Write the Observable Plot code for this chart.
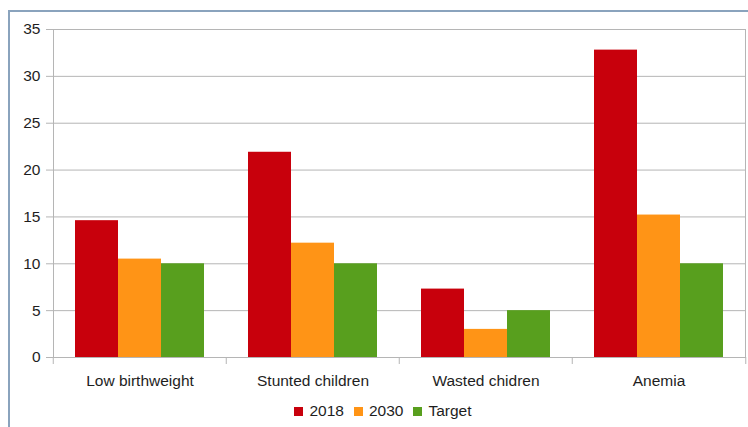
<!DOCTYPE html>
<html>
<head>
<meta charset="utf-8">
<script src="https://cdn.jsdelivr.net/npm/d3@7"></script>
<script src="https://cdn.jsdelivr.net/npm/@observablehq/plot@0.6"></script>
<style>
  body { margin: 0; background: #fff; font-family: "Liberation Sans", Arial, sans-serif; }
  #wrap { position: relative; width: 748px; height: 427px; overflow: hidden; background: #fff; }
  #border { position: absolute; left: 8px; top: 10px; right: -4px; bottom: -4px;
            border-left: 2px solid #8aa3bd; border-top: 2px solid #8aa3bd; pointer-events: none; }
</style>
</head>
<body>
<div id="wrap"><div id="chart"></div><div id="border"></div></div>
<script>
// Nutrition indicators (%): current level, projection and target
const categories = ["Low birthweight", "Stunted children", "Wasted chidren", "Anemia"];
const series = ["2018", "2030", "Target"];
const values2018 = [14.6, 21.9, 7.3, 32.8];
const values2030 = [10.5, 12.2, 3.0, 15.2];
const valuesTarget = [10, 10, 5, 10];
const seriesColors = ["#c8000c", "#ff9416", "#589f1e"];
const yTicks = [0, 5, 10, 15, 20, 25, 30, 35];

const rows = [];
categories.forEach((c, i) => {
  rows.push({category: c, series: "2018", value: values2018[i]});
  rows.push({category: c, series: "2030", value: values2030[i]});
  rows.push({category: c, series: "Target", value: valuesTarget[i]});
});

const W = 748, H = 395, ML = 52, MR = 2;
const halfStep = (W - ML - MR) / categories.length / 2;
const lineColor = "#b5b5b5";
const textColor = "#1e1e1e";
const fontSize = 15.5;

const plot = Plot.plot({
  width: W,
  height: H,
  marginLeft: ML,
  marginRight: MR,
  marginTop: 29,
  marginBottom: 38,
  style: {fontFamily: "'Liberation Sans', Arial, sans-serif", fontSize: fontSize + "px", background: "transparent", color: textColor},
  fx: {domain: categories, padding: 0, label: null},
  x: {domain: series, paddingInner: 0, paddingOuter: 0.485, axis: null},
  y: {domain: [0, 35], axis: null},
  color: {domain: series, range: seriesColors},
  marks: [
    Plot.gridY(yTicks, {stroke: lineColor, strokeOpacity: 1}),
    Plot.frame({anchor: "left", facetAnchor: "left", stroke: lineColor}),
    Plot.frame({anchor: "right", facetAnchor: "right", stroke: lineColor}),
    Plot.barY(rows, {fx: "category", x: "series", y: "value", fill: "series"}),
    Plot.axisY(yTicks, {tickSize: 7, tickPadding: 6, fontSize, stroke: lineColor, fill: textColor, strokeOpacity: 1, label: null}),
    Plot.axisFx({anchor: "bottom", tickSize: 0, tickPadding: 17, fontSize, fill: textColor, label: null}),
    Plot.axisFx({anchor: "bottom", tickSize: 7, tickFormat: () => "", dx: -halfStep, stroke: lineColor, strokeOpacity: 1, label: null}),
    Plot.axisFx({anchor: "bottom", ticks: [categories[categories.length - 1]], tickSize: 7, tickFormat: () => "", dx: halfStep, stroke: lineColor, strokeOpacity: 1, label: null})
  ]
});

const legend = plot.legend("color", {swatchWidth: 9, swatchHeight: 9});
legend.style.fontFamily = "'Liberation Sans', Arial, sans-serif";
legend.style.fontSize = fontSize + "px";
legend.style.color = textColor;
legend.style.justifyContent = "center";
legend.style.paddingLeft = "28px";
legend.style.marginLeft = "0";
legend.style.minHeight = "32px";
for (const item of legend.children) {
  if (item.tagName.toLowerCase() === "style") continue;
  item.style.marginRight = "10px";
  const sw = item.querySelector("svg");
  if (sw) sw.style.marginRight = "6px";
}

const chart = document.getElementById("chart");
chart.appendChild(plot);
chart.appendChild(legend);
</script>
</body>
</html>
